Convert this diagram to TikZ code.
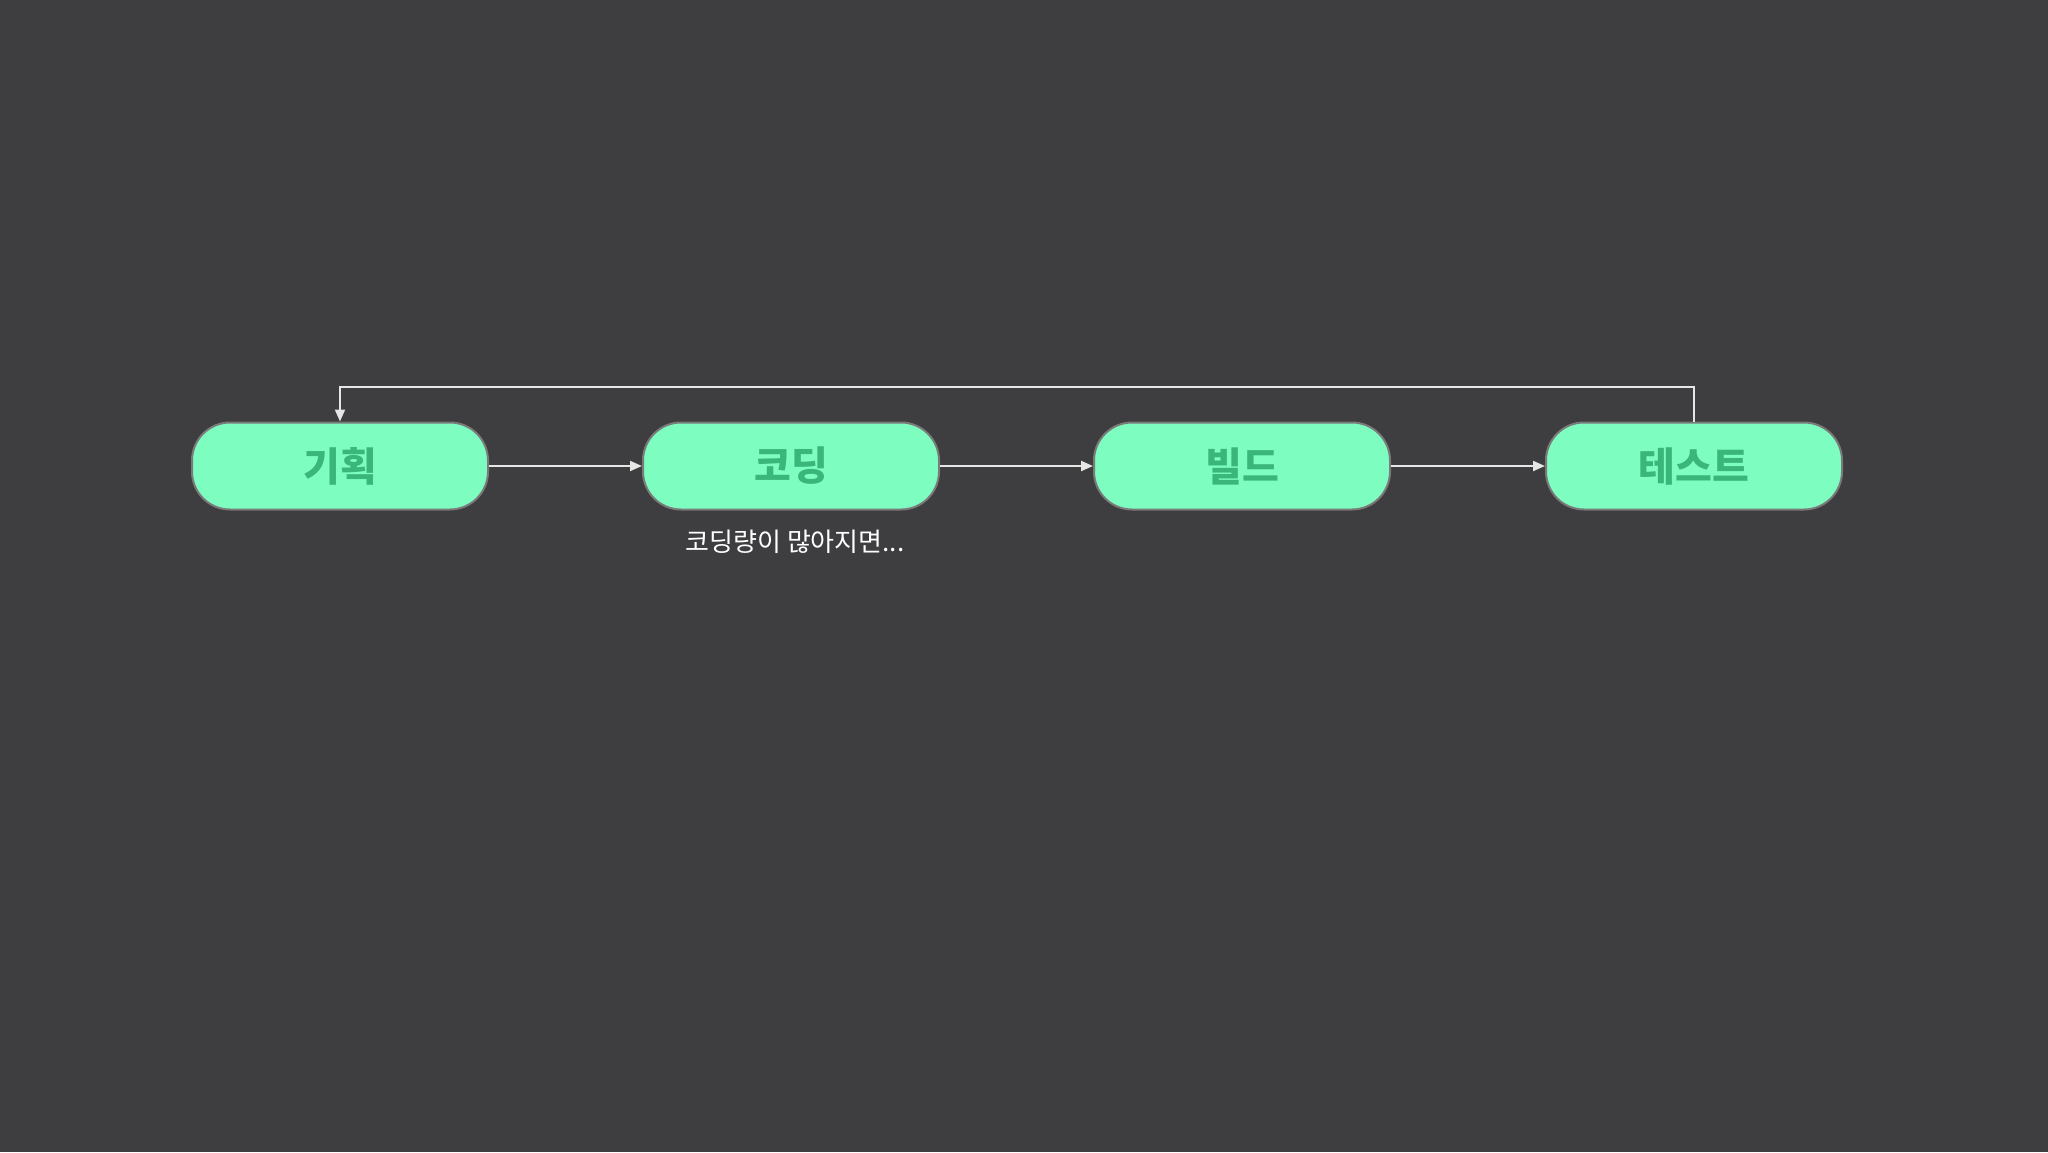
\documentclass[tikz,border=0pt]{standalone}
\usepackage{fontspec}
\newfontfamily\kr{Noto Sans CJK KR}
\usetikzlibrary{arrows.meta}
\definecolor{bg}{HTML}{3E3D3F}
\definecolor{boxfill}{HTML}{7DFEC0}
\definecolor{boxtext}{HTML}{3BB67A}
\definecolor{boxline}{HTML}{7A7A7A}
\definecolor{arr}{HTML}{E6E6E6}
\tikzset{
  stage/.style={draw=boxline, line width=2pt, fill=boxfill, rounded corners=38pt,
    minimum width=296pt, minimum height=87pt, inner sep=0pt,
    font=\kr\fontsize{40}{44}\selectfont\bfseries, text=boxtext},
  conn/.style={draw=arr, line width=2pt, -{Triangle[length=12pt,width=10pt]}},
}
\begin{document}
\begin{tikzpicture}[x=1pt,y=1pt]
\fill[bg] (0,0) rectangle (2048,-1152);
\useasboundingbox (0,0) rectangle (2048,-1152);
\node[stage] (a) at (340,-466) {기획};
\node[stage] (b) at (791,-466) {코딩};
\node[stage] (c) at (1242,-466) {빌드};
\node[stage] (d) at (1694,-466) {테스트};
\draw[conn] (a) -- (b);
\draw[conn] (b) -- (c);
\draw[conn] (c) -- (d);
\coordinate (t1) at (1694,-387);
\coordinate (t2) at (340,-387);
\draw[conn] (d.north) -- (t1) -- (t2) -- (a.north);
\node[text=white, font=\kr\fontsize{26}{30}\selectfont] (s) at (795,-542) {코딩량이 많아지면...};
\end{tikzpicture}
\end{document}
